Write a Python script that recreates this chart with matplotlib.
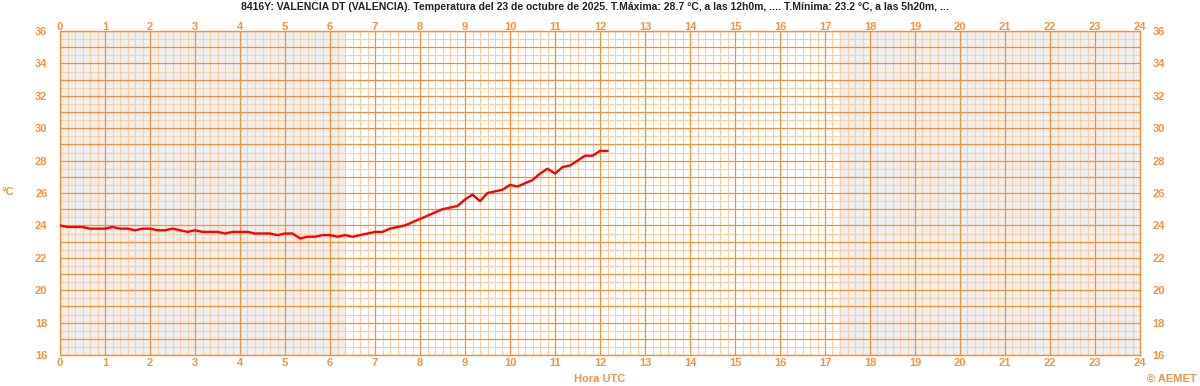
import numpy as np
import matplotlib
matplotlib.use("Agg")
import matplotlib.pyplot as plt

plt.rcParams['font.family'] = ['Liberation Sans', 'DejaVu Sans']

# ---- data (10-minute readings, hours UTC) ----
hours = [i / 6 for i in range(74)]  # 0:00 .. 12:10
temps = [24.0, 23.9, 23.9, 23.9, 23.8, 23.8,
         23.8, 23.9, 23.8, 23.8, 23.7, 23.8,
         23.8, 23.7, 23.7, 23.8, 23.7, 23.6,
         23.7, 23.6, 23.6, 23.6, 23.5, 23.6,
         23.6, 23.6, 23.5, 23.5, 23.5, 23.4,
         23.5, 23.5, 23.2, 23.3, 23.3, 23.4,
         23.4, 23.3, 23.4, 23.3, 23.4, 23.5,
         23.6, 23.6, 23.8, 23.9, 24.0, 24.2,
         24.4, 24.6, 24.8, 25.0, 25.1, 25.2,
         25.6, 25.9, 25.5, 26.0, 26.1, 26.2,
         26.5, 26.4, 26.6, 26.8, 27.2, 27.5,
         27.2, 27.6, 27.7, 28.0, 28.3, 28.3,
         28.6, 28.6]
night_spans = [(0, 6.35), (17.3, 24)]
x_ticks = list(range(0, 25))
y_ticks = list(range(16, 37, 2))

title = ("8416Y: VALENCIA DT (VALENCIA). Temperatura del 23 de octubre de 2025. "
         "T.Máxima: 28.7 °C, a las 12h0m, .... T.Mínima: 23.2 °C, a las 5h20m, ...")

ORANGE = '#f3903c'
LIGHT = '#f9cfa8'
TXT = '#f39445'

fig = plt.figure(figsize=(12, 3.86), dpi=100)
ax = fig.add_axes([60 / 1200, 31 / 386, 1080 / 1200, 324 / 386])
ax.set_xlim(0, 24)
ax.set_ylim(16, 36)

for a, b in night_spans:
    ax.axvspan(a, b, color='#efefef', zorder=0, lw=0)

# grid
for x in np.arange(0, 24.01, 1 / 6):
    if abs(x - round(x)) > 1e-6:
        ax.axvline(x, color=LIGHT, lw=0.8, zorder=1)
for y in np.arange(16, 36.01, 0.5):
    if abs(y - round(y)) > 1e-6:
        ax.axhline(y, color=LIGHT, lw=0.8, zorder=1)
for x in range(0, 25):
    ax.axvline(x, color=ORANGE, lw=0.9, zorder=2)
for y in range(16, 37):
    ax.axhline(y, color=ORANGE, lw=0.9, zorder=2)

ax.plot(hours, temps, color='#ff0000', lw=1.7, zorder=5, solid_joinstyle='round')

for s in ax.spines.values():
    s.set_color(ORANGE)
    s.set_linewidth(1.0)

ax.set_xticks(x_ticks)
ax.set_yticks(y_ticks)
ax.tick_params(axis='both', length=0, colors=TXT, labelsize=8)
ax.tick_params(axis='x', top=False, labeltop=False, bottom=True, labelbottom=True, pad=2)
ax.tick_params(axis='y', left=True, labelleft=True, right=True, labelright=True, pad=9)
for t in ax.xaxis.get_major_ticks() + ax.yaxis.get_major_ticks():
    for lab in (t.label1, t.label2):
        lab.set_fontweight('bold')
        lab.set_color(TXT)

top = ax.secondary_xaxis('top')
top.set_xticks(x_ticks)
top.tick_params(length=0, colors=TXT, labelsize=8, pad=-1)
top.spines['top'].set_visible(False)
for lab in top.get_xticklabels():
    lab.set_fontweight('bold')
    lab.set_color(TXT)

fig.text(595 / 1200, 1 - 7 / 386, title, ha='center', va='center',
         fontsize=7.5, fontweight='bold', color='#222222')
fig.text(2 / 1200, 1 - 192 / 386, '°C', ha='left', va='center',
         fontsize=8, fontweight='bold', color=TXT)
fig.text(600 / 1200, 1 - 379 / 386, 'Hora UTC', ha='center', va='center',
         fontsize=8, fontweight='bold', color=TXT)
fig.text(1197 / 1200, 1 - 379 / 386, '© AEMET', ha='right', va='center',
         fontsize=8, fontweight='bold', color=TXT)

fig.savefig('out.png', dpi=100)
